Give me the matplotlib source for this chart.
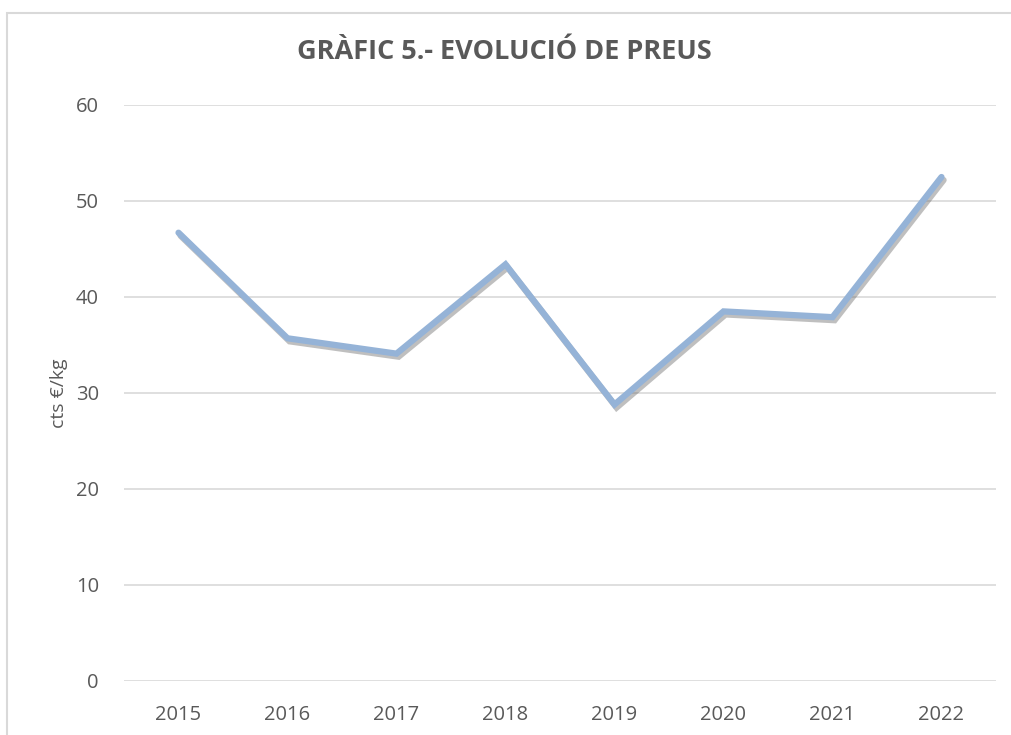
import matplotlib
matplotlib.use("Agg")
import matplotlib.pyplot as plt
import matplotlib.patheffects as pe
from matplotlib.patches import Rectangle

years = ["2015", "2016", "2017", "2018", "2019", "2020", "2021", "2022"]
prices = [46.7, 35.7, 34.1, 43.4, 28.8, 38.5, 37.9, 52.5]
yticks = [0, 10, 20, 30, 40, 50, 60]
title = "GRÀFIC 5.- EVOLUCIÓ DE PREUS"
ylabel = "cts €/kg"

plt.rcParams['font.family'] = ['Open Sans', 'DejaVu Sans']

W, H = 1011, 735
fig = plt.figure(figsize=(W / 100, H / 100), dpi=100)
fig.patch.set_facecolor("white")

# outer chart frame
fig.patches.append(Rectangle((7 / W, -0.05), 1.2, 1 - 13 / H + 0.05, transform=fig.transFigure,
                             fill=False, edgecolor="#D9D9D9", linewidth=1.5))

ax = fig.add_axes([124 / W, 1 - 681 / H, (996 - 124) / W, (681 - 105) / H])
x = list(range(len(years)))
ax.plot(x, prices, color="#95B3D7", linewidth=4.5, solid_joinstyle="miter", solid_capstyle="round",
        path_effects=[pe.SimpleLineShadow(offset=(1.5, -2.2), shadow_color="#606060", alpha=0.4),
                      pe.Normal()], zorder=3)

ax.set_xlim(-0.5, len(years) - 0.5)
ax.set_ylim(0, 60)
ax.set_yticks(yticks)
ax.set_xticks(x)
ax.set_xticklabels(years)
ax.yaxis.grid(True, color="#D9D9D9", linewidth=1.2)
ax.set_axisbelow(True)
for s in ax.spines.values():
    s.set_visible(False)
ax.tick_params(axis="both", length=0, labelsize=14.5, colors="#595959")
ax.tick_params(axis="x", pad=17)
ax.tick_params(axis="y", pad=18)

ax.set_ylabel(ylabel, fontsize=14, color="#595959", labelpad=6)
fig.text(504 / W, 1 - 52 / H, title, ha="center", va="center", fontsize=19.5,
         fontweight="bold", color="#595959")

fig.savefig("out.png", dpi=100)
